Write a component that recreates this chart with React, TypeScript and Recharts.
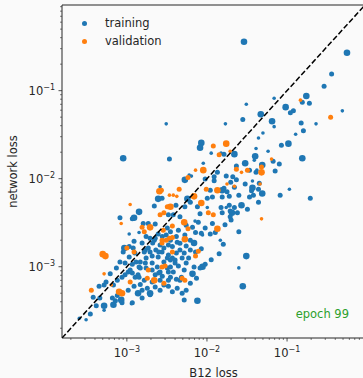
import { ScatterChart, Scatter, XAxis, YAxis, ReferenceLine, Legend, Label } from "recharts";

const BLUE = "#1f77b4";
const ORANGE = "#ff7f0e";
const GREEN = "#2ca02c";
const INK = "#262626";
const FONT = "'DejaVu Sans', sans-serif";

// both axes share one range, so y = x runs corner to corner
const LO = 1.55e-4;
const HI = 0.94;

const MAJOR_TICKS = [1e-3, 1e-2, 1e-1];
const MAJOR_EXPONENTS = ["\u22123", "\u22122", "\u22121"];
const MINOR_STEPS = [2, 3, 4, 5, 6, 7, 8, 9];
const DECADES = [1e-4, 1e-3, 1e-2, 1e-1];

// [B12 loss, network loss, marker size class]
const training: [number, number, number][] = [
  [2.9e-2, 0.36, 3], [0.56, 0.27, 3], [0.36, 0.155, 2], [0.29, 0.112, 2],
  [0.174, 0.087, 3], [0.155, 0.074, 2], [0.19, 0.072, 2], [0.069, 0.082, 1],
  [0.031, 0.07, 1], [0.096, 0.065, 3], [0.12, 0.059, 2], [0.11, 0.056, 2],
  [0.49, 0.059, 1], [0.047, 0.054, 3], [0.028, 0.047, 2], [0.065, 0.045, 3],
  [0.069, 0.039, 1], [0.15, 0.043, 2], [0.23, 0.042, 1], [0.16, 0.035, 2],
  [0.128, 0.032, 1], [0.05, 0.033, 1], [3.1e-3, 0.042, 1], [0.017, 0.042, 1],
  [0.104, 0.025, 3], [0.085, 0.024, 2], [0.044, 0.029, 1], [0.041, 0.022, 1],
  [0.058, 0.0205, 1], [8.5e-3, 0.0255, 3], [8.2e-3, 0.0225, 3], [0.0113, 0.0195, 1],
  [0.015, 0.0195, 1], [0.022, 0.019, 3], [0.04, 0.018, 3], [0.155, 0.0171, 3],
  [0.067, 0.0158, 2], [9.0e-4, 0.0171, 3], [3.4e-3, 0.0167, 2], [0.03, 0.015, 3],
  [0.049, 0.0143, 3], [0.08, 0.0147, 2], [0.0233, 0.0139, 2], [9.0e-3, 0.015, 1],
  [0.071, 0.0122, 2], [0.034, 0.0125, 2], [0.041, 0.0118, 2], [5.3e-3, 9.7e-3, 3],
  [0.0135, 0.0118, 2], [0.0123, 0.0105, 2], [0.0174, 0.0107, 2], [0.039, 0.0162, 1],
  [0.0163, 0.019, 2], [0.021, 0.0105, 2], [0.0198, 9.1e-3, 2], [6.4e-3, 0.0107, 1],
  [9.5e-3, 9.9e-3, 2], [0.011, 7.4e-3, 2], [0.0123, 9.5e-3, 2], [0.0155, 7.4e-3, 3],
  [0.0163, 7.8e-3, 2], [0.0178, 7.1e-3, 2], [0.0155, 6.2e-3, 2], [0.019, 6.3e-3, 2],
  [0.022, 8.0e-3, 2], [0.027, 5.0e-3, 3], [0.034, 6.2e-3, 2], [0.036, 7.3e-3, 2],
  [0.044, 7.6e-3, 2], [0.044, 5.4e-3, 2], [0.032, 4.5e-3, 2], [0.024, 4.1e-3, 2],
  [0.03, 8.7e-3, 2], [0.037, 7.9e-3, 3], [0.038, 6.5e-3, 2], [0.045, 8.9e-3, 2],
  [0.042, 0.0125, 1], [0.0233, 9.7e-3, 2], [0.0205, 4.1e-3, 3], [0.0195, 3.7e-3, 2],
  [0.022, 4.7e-3, 2], [0.0174, 4.7e-3, 1], [0.0168, 3.0e-3, 2], [0.0117, 3.1e-3, 2],
  [9.5e-3, 2.75e-3, 2], [7.8e-3, 3.2e-3, 2], [7.1e-3, 3.3e-3, 1], [6.6e-3, 2.8e-3, 2],
  [3.8e-3, 3.9e-3, 2], [3.3e-3, 3.9e-3, 2], [3.2e-3, 2.75e-3, 2], [5.7e-3, 5.9e-3, 3],
  [6.2e-3, 5.4e-3, 2], [5.3e-3, 4.8e-3, 2], [7.6e-3, 4.8e-3, 2], [0.0101, 6.0e-3, 2],
  [0.0101, 4.7e-3, 1], [0.0117, 6.2e-3, 2], [6.0e-3, 0.011, 1], [8.8e-3, 2.3e-3, 1],
  [0.011, 2.35e-3, 2], [8.5e-3, 2.4e-3, 2], [0.025, 2.5e-3, 2], [0.016, 1.8e-3, 2],
  [0.0142, 1.4e-3, 2], [0.0113, 1.2e-3, 2], [9.5e-3, 1.07e-3, 2], [8.8e-3, 1.0e-3, 3],
  [8.2e-3, 9.7e-4, 2], [6.9e-3, 9.9e-4, 2], [6.6e-3, 8.3e-4, 3], [4.8e-3, 7.6e-4, 2],
  [3.3e-3, 7.0e-4, 2], [0.031, 1.32e-3, 3], [0.025, 9.7e-4, 1], [0.028, 6.0e-4, 3],
  [7.6e-3, 4.1e-4, 3], [6.9e-3, 1.86e-3, 3], [8.5e-3, 1.6e-3, 2], [5.2e-3, 1.43e-3, 2],
  [3.7e-3, 1.26e-3, 2], [4.0e-3, 1.1e-3, 2], [0.195, 6.0e-3, 2], [0.107, 7.6e-3, 1],
  [0.082, 6.5e-3, 2], [0.049, 6.8e-3, 3], [0.025, 6.5e-3, 2], [0.037, 9.4e-3, 1],
  [0.019, 5.0e-3, 2], [0.015, 4.7e-3, 2], [0.0195, 4.3e-3, 2], [0.02, 3.4e-3, 2],
  [0.0155, 4.1e-3, 2], [2.6e-3, 8.1e-3, 1], [2.75e-3, 6.0e-3, 2], [2.46e-3, 5.9e-3, 3],
  [2.2e-3, 4.9e-3, 2], [1.42e-3, 4.2e-3, 3], [8.2e-4, 3.6e-3, 2], [1.17e-3, 3.5e-3, 2],
  [1.23e-3, 3.6e-3, 3], [1.6e-3, 3.1e-3, 2], [1.85e-3, 3.1e-3, 2], [2.26e-3, 3.05e-3, 2],
  [1.07e-3, 2.35e-3, 1], [1.23e-3, 1.95e-3, 2], [9.0e-4, 1.47e-3, 2], [1.2e-3, 1.63e-3, 2],
  [1.55e-3, 1.86e-3, 2], [1.7e-3, 1.55e-3, 2], [1.85e-3, 1.63e-3, 2], [2.1e-3, 1.86e-3, 2],
  [2.26e-3, 2.1e-3, 2], [2.6e-3, 1.77e-3, 2], [2.9e-3, 1.63e-3, 2], [3.3e-3, 1.77e-3, 2],
  [3.7e-3, 1.7e-3, 2], [4.25e-3, 1.9e-3, 2], [4.6e-3, 1.55e-3, 2], [4.9e-3, 1.26e-3, 2],
  [4.0e-3, 1.19e-3, 2], [3.2e-3, 1.26e-3, 2], [2.46e-3, 1.29e-3, 2], [2.75e-3, 1.47e-3, 2],
  [3.2e-3, 9.7e-4, 2], [3.5e-3, 9.9e-4, 2], [3.8e-3, 8.7e-4, 2], [2.6e-3, 8.7e-4, 2],
  [2.26e-3, 8.1e-4, 2], [1.38e-3, 8.1e-4, 2], [1.27e-3, 7.6e-4, 2], [1.17e-3, 8.5e-4, 2],
  [9.5e-4, 8.1e-4, 2], [1.04e-3, 8.7e-4, 2], [1.47e-3, 9.7e-4, 2], [1.7e-3, 1.1e-3, 2],
  [2.07e-3, 1.1e-3, 2], [4.6e-3, 7.0e-4, 2], [3.5e-3, 7.6e-4, 2], [2.9e-3, 6.2e-4, 2],
  [2.26e-3, 5.9e-4, 2], [1.8e-3, 5.7e-4, 2], [1.55e-3, 5.4e-4, 2], [1.38e-3, 5.0e-4, 3],
  [1.95e-3, 4.8e-4, 2], [4.25e-3, 5.7e-4, 2], [4.9e-3, 5.0e-4, 2], [6.6e-4, 4.4e-4, 2],
  [6.8e-4, 6.2e-4, 2], [2.55e-4, 2.6e-4, 1], [3.8e-4, 4.5e-4, 2], [4.6e-4, 4.4e-4, 2],
  [4.5e-4, 6.0e-4, 2], [5.2e-4, 6.2e-4, 2], [5.2e-4, 3.6e-4, 3], [5.2e-4, 3.2e-4, 1],
  [6.8e-4, 3.7e-4, 3], [7.2e-4, 4.1e-4, 2], [7.6e-4, 4.7e-4, 2], [8.7e-4, 3.9e-4, 2],
  [1.17e-3, 3.9e-4, 2], [1.95e-3, 5.0e-4, 3], [7.6e-4, 7.0e-4, 2], [8.7e-4, 7.6e-4, 2],
  [9.5e-4, 1.1e-3, 2], [1.1e-3, 9.2e-4, 2], [1.42e-3, 7.6e-4, 2], [1.65e-3, 7.0e-4, 2],
  [1.42e-3, 9.9e-4, 2], [1.47e-3, 1.13e-3, 2], [2.4e-3, 9.9e-4, 2], [2.5e-3, 8.5e-4, 2],
  [2.6e-3, 7.0e-4, 2], [2.07e-3, 6.7e-4, 2], [1.07e-3, 1.7e-3, 2], [9.3e-4, 1.63e-3, 3],
  [1.07e-3, 1.29e-3, 2], [1.26e-3, 1.43e-3, 2], [1.42e-3, 2.45e-3, 1], [1.65e-3, 1.47e-3, 2],
  [1.95e-3, 1.47e-3, 2], [2.5e-3, 1.47e-3, 2], [2.2e-3, 2.0e-3, 2], [8.5e-4, 4.2e-4, 3],
  [1.14e-3, 3.8e-4, 1], [4.4e-3, 2.6e-3, 2], [5.3e-3, 2.3e-3, 2], [6.2e-3, 2.0e-3, 2],
  [7.2e-3, 1.47e-3, 2], [5.9e-3, 1.26e-3, 2], [3.1e-3, 2.3e-3, 2], [3.5e-3, 2.0e-3, 2],
  [5.5e-3, 2.95e-3, 2], [4.6e-3, 3.7e-3, 2], [4.1e-3, 5.0e-3, 2], [8.2e-3, 4.0e-3, 2],
  [7.2e-3, 2.45e-3, 2], [0.0127, 2.45e-3, 2], [0.0147, 2.0e-3, 1],
  // dense core between 1e-3 and 1e-2
  [1.74e-3, 2.2e-3, 2], [1.95e-3, 2.1e-3, 2], [2.46e-3, 2.35e-3, 2], [2.77e-3, 2.2e-3, 2],
  [3.5e-3, 2.5e-3, 2], [4.15e-3, 2.2e-3, 2], [4.6e-3, 1.85e-3, 2], [5.5e-3, 1.72e-3, 2],
  [6.2e-3, 1.55e-3, 2], [4.15e-3, 1.43e-3, 2], [3.3e-3, 1.36e-3, 2], [2.3e-3, 1.55e-3, 2],
  [2.07e-3, 1.32e-3, 2], [1.74e-3, 1.26e-3, 2], [2.9e-3, 1.13e-3, 2], [3.5e-3, 1.19e-3, 2],
  [4.4e-3, 1.02e-3, 2], [5.2e-3, 9.2e-4, 2], [5.5e-3, 1.1e-3, 2], [4.15e-3, 7.2e-4, 2],
  [3.3e-3, 6.0e-4, 2], [2.6e-3, 5.4e-4, 2], [1.47e-3, 6.3e-4, 2], [1.23e-3, 6.0e-4, 2],
  [1.04e-3, 5.4e-4, 2], [1.55e-3, 4.4e-4, 2], [1.3e-3, 1.13e-3, 2], [1.17e-3, 1.07e-3, 2],
  [8.2e-4, 1.13e-3, 2], [7.4e-4, 9.7e-4, 2], [6.2e-4, 8.3e-4, 2], [5.5e-4, 6.7e-4, 2],
  [4.15e-4, 3.6e-4, 2], [3.5e-4, 2.9e-4, 2], [3.1e-4, 2.5e-4, 1], [1.74e-3, 9.7e-4, 2],
  [2.07e-3, 9.2e-4, 2], [2.77e-3, 7.8e-4, 2], [3.3e-3, 8.7e-4, 2], [6.2e-3, 6.5e-4, 2],
  [5.5e-3, 5.4e-4, 2], [7.4e-3, 7.4e-4, 2], [3.7e-3, 5.2e-4, 2], [5.2e-3, 4.2e-4, 2],
];

const validation: [number, number, number][] = [
  [0.147, 0.078, 1], [0.35, 0.05, 2], [0.0174, 0.025, 3], [0.012, 0.0235, 2],
  [0.0142, 0.0187, 2], [0.0195, 0.0205, 1], [0.064, 0.0167, 1], [0.048, 0.0136, 2],
  [0.048, 0.0118, 3], [0.032, 0.0125, 2], [0.0233, 0.0128, 2], [0.027, 0.0118, 1],
  [7.2e-3, 0.0125, 1], [9.0e-3, 0.0125, 3], [5.8e-3, 0.0103, 2], [0.0178, 8.7e-3, 1],
  [0.046, 8.7e-3, 1], [2.55e-3, 7.2e-3, 3], [2.7e-3, 7.4e-3, 2], [3.4e-3, 6.5e-3, 1],
  [3.8e-3, 6.5e-3, 1], [4.2e-3, 6.3e-3, 1], [4.5e-3, 7.6e-3, 2], [6.9e-3, 6.3e-3, 3],
  [9.8e-3, 7.6e-3, 2], [0.0135, 7.4e-3, 3], [0.022, 8.2e-3, 1], [8.5e-3, 5.3e-3, 3],
  [3.5e-3, 4.8e-3, 3], [3.2e-3, 4.8e-3, 2], [2.9e-3, 4.1e-3, 2], [2.6e-3, 3.9e-3, 2],
  [5.2e-3, 3.2e-3, 3], [5.8e-3, 2.7e-3, 2], [0.0104, 4.1e-3, 2], [0.012, 3.9e-3, 2],
  [0.0135, 2.7e-3, 3], [3.7e-3, 2.9e-3, 2], [1.1e-3, 5.1e-3, 1], [8.5e-4, 3.1e-3, 1],
  [1.95e-3, 2.8e-3, 3], [1.55e-3, 2.8e-3, 2], [1.65e-3, 2.5e-3, 2], [2.85e-3, 2.6e-3, 2],
  [3.1e-3, 2.0e-3, 2], [2.75e-3, 2.0e-3, 2], [3.4e-3, 2.1e-3, 2], [3.7e-3, 2.15e-3, 2],
  [5.3e-3, 2.05e-3, 3], [3.7e-3, 1.47e-3, 2], [7.8e-3, 1.5e-3, 2], [7.2e-3, 1.32e-3, 2],
  [2.75e-3, 1.86e-3, 2], [1.0e-3, 1.63e-3, 2], [1.23e-3, 1.47e-3, 2], [5.0e-4, 1.39e-3, 3],
  [5.4e-4, 1.32e-3, 3], [5.2e-4, 8.3e-4, 1], [3.6e-4, 5.4e-4, 2], [6.4e-4, 6.2e-4, 1],
  [8.0e-4, 5.2e-4, 3], [8.7e-4, 5.0e-4, 3], [1.1e-3, 6.7e-4, 2], [1.85e-3, 9.2e-4, 2],
  [1.8e-3, 7.4e-4, 2], [2.2e-3, 7.0e-4, 3], [3.0e-3, 1.02e-3, 2], [2.9e-3, 6.5e-4, 2],
  [4.9e-3, 7.4e-4, 2], [5.3e-3, 7.0e-4, 2], [0.048, 3.5e-3, 1], [2.75e-3, 9.9e-4, 2],
];

const LEGEND: [string, string][] = [
  ["training", BLUE],
  ["validation", ORANGE],
];

const RADII: Record<number, number> = { 1: 1.8, 2: 2.5, 3: 3.3 };

const minorTicks = DECADES.flatMap((d) => MINOR_STEPS.map((m) => m * d)).filter(
  (v) => v > LO && v < HI
);
const allTicks = [...minorTicks, ...MAJOR_TICKS].sort((a, b) => a - b);

const majorIndex = (v: number) =>
  MAJOR_TICKS.findIndex((t) => Math.abs(v - t) / t < 1e-6);

const toRows = (pts: [number, number, number][]) =>
  pts.map(([b12, net, s]) => ({ b12, net, s }));

const trainingData = toRows(training);
const validationData = toRows(validation);
const diagonal = [
  { b12: LO, net: LO },
  { b12: HI, net: HI },
];

function XTick({ x, y, payload }: any) {
  const i = majorIndex(payload.value);
  const major = i >= 0;
  return (
    <g>
      <line x1={x} y1={y} x2={x} y2={y + (major ? 3.5 : 2)} stroke={INK} strokeWidth={major ? 0.8 : 0.6} />
      {major && (
        <text x={x} y={y + 19} textAnchor="middle" fontSize={11.5} fill={INK} fontFamily={FONT}>
          10
          <tspan dy={-5} fontSize={8}>
            {MAJOR_EXPONENTS[i]}
          </tspan>
        </text>
      )}
    </g>
  );
}

function YTick({ x, y, payload }: any) {
  const i = majorIndex(payload.value);
  const major = i >= 0;
  return (
    <g>
      <line x1={x} y1={y} x2={x - (major ? 3.5 : 2)} y2={y} stroke={INK} strokeWidth={major ? 0.8 : 0.6} />
      {major && (
        <text x={x - 7} y={y + 4.5} textAnchor="end" fontSize={11.5} fill={INK} fontFamily={FONT}>
          10
          <tspan dy={-5} fontSize={8}>
            {MAJOR_EXPONENTS[i]}
          </tspan>
        </text>
      )}
    </g>
  );
}

const dot = (color: string) => (p: any) =>
  <circle cx={p.cx} cy={p.cy} r={RADII[p.payload.s]} fill={color} />;

export default function App() {
  return (
    <div
      style={{
        position: "fixed",
        top: 0,
        left: 0,
        width: 363,
        height: 378,
        overflow: "hidden",
        background: "#fafafa",
        fontFamily: FONT,
      }}
    >
      <ScatterChart width={375} height={378} margin={{ top: 5, right: 10, bottom: 0, left: 0 }}>
        <XAxis
          type="number"
          dataKey="b12"
          scale="log"
          domain={[LO, HI]}
          allowDataOverflow
          ticks={allTicks}
          interval={0}
          tick={(p: any) => <XTick {...p} />}
          tickLine={false}
          tickSize={0}
          tickMargin={0}
          axisLine={{ stroke: INK, strokeWidth: 1 }}
          height={40}
        >
          <Label value="B12 loss" position="insideBottom" offset={1.5} fill={INK} fontSize={11.5} fontFamily={FONT} />
        </XAxis>
        <YAxis
          type="number"
          dataKey="net"
          scale="log"
          domain={[LO, HI]}
          allowDataOverflow
          ticks={allTicks}
          interval={0}
          tick={(p: any) => <YTick {...p} />}
          tickLine={false}
          tickSize={0}
          tickMargin={0}
          axisLine={{ stroke: INK, strokeWidth: 1 }}
          width={62}
        >
          <Label
            value="network loss"
            angle={-90}
            position="insideLeft"
            offset={13}
            fill={INK}
            fontSize={11.5}
            fontFamily={FONT}
            style={{ textAnchor: "middle" }}
          />
        </YAxis>
        <ReferenceLine y={HI} stroke={INK} strokeWidth={1} />
        {/* vertical + centered + middle keeps the legend out of the plot offset */}
        <Legend
          verticalAlign="middle"
          align="center"
          layout="vertical"
          wrapperStyle={{ top: 14, left: 81.5, width: "auto" }}
          content={() => (
            <div style={{ fontFamily: FONT, fontSize: 11.5, color: INK }}>
              {LEGEND.map(([name, color]) => (
                <div key={name} style={{ display: "flex", alignItems: "center", height: 18 }}>
                  <span
                    style={{
                      width: 5,
                      height: 5,
                      borderRadius: "50%",
                      background: color,
                      marginRight: 18.5,
                    }}
                  />
                  {name}
                </div>
              ))}
            </div>
          )}
        />
        <Scatter name="training" data={trainingData} shape={dot(BLUE)} isAnimationActive={false} />
        <Scatter name="validation" data={validationData} shape={dot(ORANGE)} isAnimationActive={false} />
        <Scatter
          data={diagonal}
          line={{ stroke: "#000", strokeWidth: 1.5, strokeDasharray: "5.5 2.4" }}
          shape={() => <g />}
          legendType="none"
          isAnimationActive={false}
        />
      </ScatterChart>
      <div
        style={{
          position: "absolute",
          right: 14,
          top: 307,
          fontSize: 11.5,
          lineHeight: "14px",
          color: GREEN,
        }}
      >
        epoch 99
      </div>
    </div>
  );
}
